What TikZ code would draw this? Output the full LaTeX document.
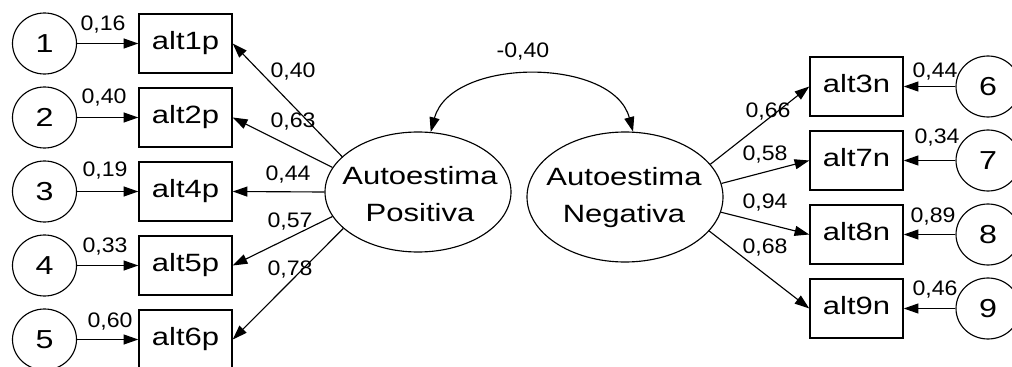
\documentclass[tikz,border=0pt]{standalone}
\usepackage{fontspec}
\setmainfont{Liberation Sans}
\usepackage{graphicx}
\usetikzlibrary{shapes.geometric,arrows.meta}
\newcommand\sxb[1]{\scalebox{1.24}[1]{#1}}
\newcommand\sxl[1]{\scalebox{1.1}[1]{#1}}
\begin{document}
\begin{tikzpicture}[x=0.75pt,y=-0.75pt,
  obs/.style={draw, line width=1.1pt, minimum width=69.75pt, minimum height=44.25pt, inner sep=0pt,
    font=\fontsize{18.75pt}{22pt}\selectfont, text height=0.96em, text depth=0pt},
  err/.style={draw, ellipse, line width=0.85pt, minimum width=48pt, minimum height=45.75pt, inner sep=0pt,
    font=\fontsize{19.5pt}{22pt}\selectfont},
  lat/.style={draw, ellipse, line width=0.85pt, inner sep=0pt},
  lattext/.style={inner sep=0pt, align=center, font=\fontsize{18.75pt}{27.75pt}\selectfont},
  coef/.style={inner sep=0pt, font=\fontsize{15.75pt}{18pt}\selectfont},
  tip/.style={Triangle[length=11pt,width=7.5pt]},
  arr/.style={-{Triangle[length=11pt,width=7.5pt]}, line width=0.85pt},
  darr/.style={{Triangle[length=11pt,width=7.5pt]}-{Triangle[length=11pt,width=7.5pt]}, line width=0.85pt},
]
\clip (0,0) rectangle (1012,367);
\fill[white] (0,0) rectangle (1012,367);

% left error terms and indicators
\node[err] (e1) at (44.5,43.5) {\sxb{1}};
\node[err] (e2) at (44.5,117.5) {\sxb{2}};
\node[err] (e3) at (44.5,191.5) {\sxb{3}};
\node[err] (e4) at (44.5,265.5) {\sxb{4}};
\node[err] (e5) at (44.5,339.5) {\sxb{5}};

\node[obs] (alt1p) at (185.5,43.5) {\sxb{alt1p}};
\node[obs] (alt2p) at (185.5,117.5) {\sxb{alt2p}};
\node[obs] (alt4p) at (185.5,191.5) {\sxb{alt4p}};
\node[obs] (alt5p) at (185.5,265.5) {\sxb{alt5p}};
\node[obs] (alt6p) at (185.5,339.5) {\sxb{alt6p}};

% latent variables
\node[lat, minimum width=139.5pt, minimum height=90pt] (pos) at (418,192) {};
\node[lattext] (postext) at (420,194) {\sxb{Autoestima}\\\sxb{Positiva}};
\node[lat, minimum width=147pt, minimum height=97.5pt] (neg) at (625,197) {};
\node[lattext] (negtext) at (624,198) {\sxb{Autoestima}\\\sxb{Negativa}};

% right indicators and error terms
\node[obs] (alt3n) at (856.5,86.5) {\sxb{alt3n}};
\node[obs] (alt7n) at (856.5,160.5) {\sxb{alt7n}};
\node[obs] (alt8n) at (856.5,234.5) {\sxb{alt8n}};
\node[obs] (alt9n) at (856.5,308.5) {\sxb{alt9n}};

\node[err] (e6) at (988,86.5) {\sxb{6}};
\node[err] (e7) at (988,160.5) {\sxb{7}};
\node[err] (e8) at (988,234.5) {\sxb{8}};
\node[err] (e9) at (988,308.5) {\sxb{9}};

% error arrows
\draw[arr] (e1) -- (alt1p);
\draw[arr] (e2) -- (alt2p);
\draw[arr] (e3) -- (alt4p);
\draw[arr] (e4) -- (alt5p);
\draw[arr] (e5) -- (alt6p);
\draw[arr] (e6) -- (alt3n);
\draw[arr] (e7) -- (alt7n);
\draw[arr] (e8) -- (alt8n);
\draw[arr] (e9) -- (alt9n);

% loadings
\draw[arr] (pos.155) -- (alt1p.east);
\draw[arr] (pos.164) -- (alt2p.east);
\draw[arr] (pos.180) -- (alt4p.east);
\draw[arr] (pos.196) -- (alt5p.east);
\draw[arr] (pos.206) -- (alt6p.east);
\draw[arr] (neg.21) -- (alt3n.west);
\draw[arr] (neg.8) -- (alt7n.west);
\draw[arr] (neg.-9) -- (alt8n.west);
\draw[arr] (neg.-22) -- (alt9n.west);

% covariance
\draw[darr] (pos.78) .. controls +(20,-75) and +(-20,-75) .. (neg.83);

% labels
\node[coef] (l16) at (103,25) {\sxl{0,16}};
\node[coef] (l40e) at (104,98) {\sxl{0,40}};
\node[coef] (l19) at (105,171) {\sxl{0,19}};
\node[coef] (l33) at (105,247) {\sxl{0,33}};
\node[coef] (l60) at (110,322) {\sxl{0,60}};

\node[coef] (p40) at (293,72) {\sxl{0,40}};
\node[coef] (p63) at (293,122) {\sxl{0,63}};
\node[coef] (p44) at (288,175) {\sxl{0,44}};
\node[coef] (p57) at (290,222) {\sxl{0,57}};
\node[coef] (p78) at (290,270) {\sxl{0,78}};

\node[coef] (n66) at (768,112) {\sxl{0,66}};
\node[coef] (n58) at (765,155) {\sxl{0,58}};
\node[coef] (n94) at (765,203) {\sxl{0,94}};
\node[coef] (n68) at (765,248) {\sxl{0,68}};

\node[coef] (r44) at (935,72) {\sxl{0,44}};
\node[coef] (r34) at (937,138) {\sxl{0,34}};
\node[coef] (r89) at (933,217) {\sxl{0,89}};
\node[coef] (r46) at (935,290) {\sxl{0,46}};

\node[coef] (cov) at (523,52) {\sxl{-0,40}};
\end{tikzpicture}
\end{document}
